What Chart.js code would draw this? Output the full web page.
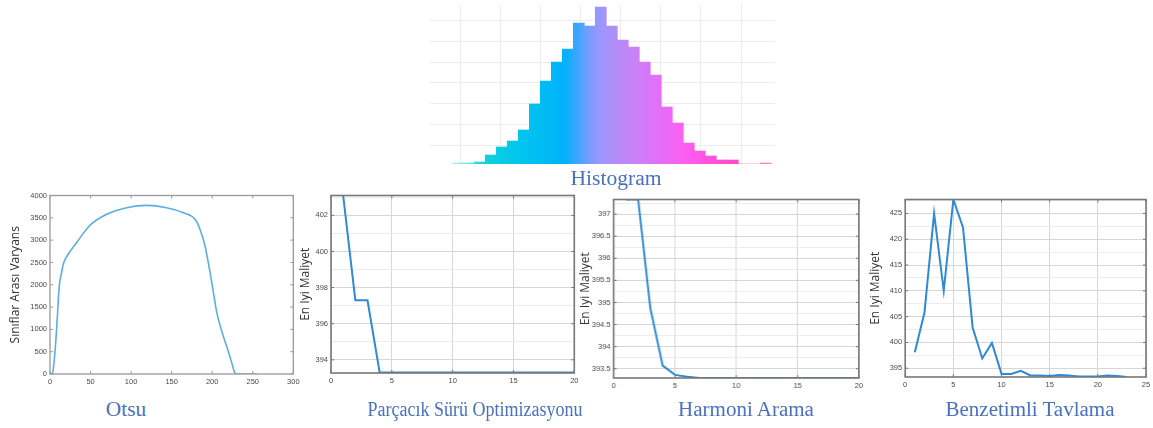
<!DOCTYPE html>
<html>
<head>
<meta charset="utf-8">
<script src="https://cdn.jsdelivr.net/npm/chart.js@4.4.1/dist/chart.umd.min.js"></script>
<style>
  body { margin: 0; background: #fff; width: 1153px; height: 428px; overflow: hidden; position: relative; }
  .box { position: absolute; }
  .cap { position: absolute; width: 300px; text-align: center; white-space: nowrap;
         font-family: "Liberation Serif", "Times New Roman", serif; font-size: 20px; line-height: 20px;
         color: #4a70c0; transform-origin: center; }
</style>
</head>
<body>
<div class="box" id="hBox"><canvas id="hist"></canvas></div>
<div class="box" id="oBox"><canvas id="otsu"></canvas></div>
<div class="box" id="pBox"><canvas id="pso"></canvas></div>
<div class="box" id="aBox"><canvas id="hs"></canvas></div>
<div class="box" id="sBox"><canvas id="sa"></canvas></div>

<div class="cap" style="left:466px;top:168px;transform:scaleX(1.08)">Histogram</div>
<div class="cap" style="left:-24px;top:399px;transform:scaleX(1.07)">Otsu</div>
<div class="cap" style="left:325px;top:399px;transform:scaleX(0.9)">Parçacık Sürü Optimizasyonu</div>
<div class="cap" style="left:596px;top:399px;transform:scaleX(1.05)">Harmoni Arama</div>
<div class="cap" style="left:880px;top:399px;transform:scaleX(1.05)">Benzetimli Tavlama</div>

<script>
// histogram (bin index -> relative count)
const histBins = [0, 1, 2, 3, 4, 5, 6, 7, 8, 9, 10, 11, 12, 13, 14, 15, 16, 17, 18, 19, 20, 21, 22, 23, 24, 25, 26, 27, 28];
const histCounts = [1, 1, 2, 9, 17, 23, 34, 60, 83, 102, 115, 141, 138, 157, 138, 124, 117, 102, 89, 57, 41, 21, 13, 8, 4, 4, 0, 0, 1];

// Otsu between-class variance
const otsuT = [0, 3, 6.2, 8.2, 11.5, 14.4, 16.4, 22.6, 32.9, 49.3, 69.9, 94.5, 119.2, 143.8, 164.4, 178.8, 184.9, 191.1, 197.3, 201.4, 205.5, 209.6, 214.5, 219.9, 224.8, 228.1, 231, 255];
const otsuVar = [0, 20, 504, 1022, 1985, 2281, 2467, 2689, 2948, 3333, 3578, 3726, 3778, 3726, 3615, 3467, 3244, 2874, 2281, 1837, 1393, 1096, 800, 504, 207, 22, 0, 0];

// PSO best cost
const psoIter = [1, 2, 3, 4, 5, 6, 7, 8, 9, 10, 11, 12, 13, 14, 15, 16, 17, 18, 19, 20];
const psoCost = [403.1, 397.3, 397.3, 393.3, 393.3, 393.3, 393.3, 393.3, 393.3, 393.3, 393.3, 393.3, 393.3, 393.3, 393.3, 393.3, 393.3, 393.3, 393.3, 393.3];

// Harmony search best cost
const hsIter = [1, 2, 3, 4, 5, 6, 7, 8, 9, 10, 11, 12, 13, 14, 15, 16, 17, 18, 19, 20];
const hsCost = [397.33, 397.33, 394.86, 393.57, 393.36, 393.32, 393.29, 393.29, 393.29, 393.29, 393.29, 393.29, 393.29, 393.29, 393.29, 393.29, 393.29, 393.29, 393.29, 393.29];

// simulated annealing best cost
const saIter = [1, 2, 3, 4, 5, 6, 7, 8, 9, 10, 11, 12, 13, 14, 15, 16, 17, 18, 19, 20, 21, 22, 23];
const saCost = [398.1, 405.8, 425, 410, 427.7, 422.3, 402.9, 396.9, 399.9, 393.9, 393.9, 394.5, 393.6, 393.6, 393.5, 393.7, 393.6, 393.4, 393.4, 393.4, 393.6, 393.5, 393.3];

const yTitle = 'En İyi Maliyet';
const otsuTitle = 'Sınıflar Arası Varyans';

const tickFont = { family: 'Liberation Sans', size: 7.5 };
const tickColor = '#4a4a4a';

function placeBox(id, r, axisW, axisH, padT, padR) {
  const el = document.getElementById(id);
  el.style.left = (r.l - axisW) + 'px';
  el.style.top = (r.t - padT) + 'px';
  el.style.width = (axisW + r.r - r.l + padR) + 'px';
  el.style.height = (padT + r.b - r.t + axisH) + 'px';
}

// box round the plot + small inner tick marks (matlab look)
const framePlugin = {
  id: 'frame',
  afterDatasetsDraw(chart, args, opts) {
    const { ctx, chartArea: a, scales } = chart;
    ctx.save();
    ctx.strokeStyle = opts.color;
    ctx.lineWidth = 1;
    ctx.beginPath();
    scales.x.ticks.forEach(t => {
      if (t.label === '') return;
      const p = scales.x.getPixelForValue(t.value);
      ctx.moveTo(p, a.bottom); ctx.lineTo(p, a.bottom - 3);
      ctx.moveTo(p, a.top); ctx.lineTo(p, a.top + 3);
    });
    scales.y.ticks.forEach(t => {
      if (t.label === '') return;
      const p = scales.y.getPixelForValue(t.value);
      ctx.moveTo(a.left, p); ctx.lineTo(a.left + 3, p);
      ctx.moveTo(a.right, p); ctx.lineTo(a.right - 3, p);
    });
    ctx.stroke();
    ctx.lineWidth = opts.width;
    ctx.strokeRect(a.left, a.top, a.right - a.left, a.bottom - a.top);
    ctx.restore();
  }
};

function lineChart(id, xs, ys, o) {
  const pts = xs.map((x, i) => ({ x: x, y: ys[i] }));
  const isMajor = v => Math.abs(v / o.yMajor - Math.round(v / o.yMajor)) < 1e-6;
  return new Chart(document.getElementById(id), {
    type: 'line',
    data: {
      datasets: [{
        data: pts,
        borderColor: o.color,
        borderWidth: o.lw,
        pointRadius: 0,
        fill: false,
        tension: o.smooth ? 0.4 : 0,
        cubicInterpolationMode: o.smooth ? 'monotone' : 'default'
      }]
    },
    options: {
      responsive: true,
      maintainAspectRatio: false,
      animation: false,
      events: [],
      layout: { padding: { top: o.padT, right: o.padR, left: 0, bottom: 0 } },
      plugins: {
        legend: { display: false },
        tooltip: { enabled: false },
        frame: { color: o.frame, width: o.frameW }
      },
      scales: {
        x: {
          type: 'linear', min: o.xMin, max: o.xMax,
          afterFit: s => { s.height = o.axisH; },
          ticks: { stepSize: o.xStep, autoSkip: false, maxRotation: 0, padding: 3, font: tickFont, color: tickColor },
          grid: { display: o.grid, drawTicks: false, color: '#d6d6d6' },
          border: { display: false }
        },
        y: {
          type: 'linear', min: o.yMin, max: o.yMax,
          afterFit: s => { s.width = o.axisW; },
          ticks: {
            stepSize: o.yStep, autoSkip: false, includeBounds: false, padding: 3,
            font: tickFont, color: tickColor,
            callback: v => isMajor(v) ? v : ''
          },
          grid: {
            display: o.grid, drawTicks: false,
            color: c => isMajor(c.tick.value) ? '#d6d6d6' : '#ececec'
          },
          border: { display: false },
          title: {
            display: true, text: o.title, color: '#333',
            font: { family: 'Open Sans', size: 12 },
            padding: { top: 0, bottom: 0 }
          }
        }
      }
    },
    plugins: [framePlugin]
  });
}

// ---- histogram ----
const hRect = { l: 430, t: 5, r: 775, b: 164 };
placeBox('hBox', hRect, 0, 0, 5, 0);

const histStops = [
  [0, '#bdf0f0'], [0.10, '#12d0da'], [0.21, '#00c6ee'], [0.35, '#00b2fa'],
  [0.39, '#3aa6ff'], [0.43, '#789cff'], [0.46, '#9898ff'], [0.50, '#ae8ff8'],
  [0.57, '#c882f8'], [0.65, '#e46ef8'], [0.73, '#fc5ef2'], [0.81, '#ff52dc'],
  [0.89, '#ff4cc4'], [1, '#ff8cc0']
];
function histFill(c) {
  const chart = c.chart;
  if (!chart.chartArea) return '#00b2fa';
  const xs = chart.scales.x;
  const g = chart.ctx.createLinearGradient(xs.getPixelForValue(-0.5), 0, xs.getPixelForValue(28.5), 0);
  histStops.forEach(s => g.addColorStop(s[0], s[1]));
  return g;
}

new Chart(document.getElementById('hist'), {
  type: 'bar',
  data: {
    datasets: [{
      data: histBins.map((b, i) => ({ x: b, y: histCounts[i] })),
      backgroundColor: histFill,
      borderWidth: 0,
      barPercentage: 1,
      categoryPercentage: 1
    }]
  },
  options: {
    responsive: true, maintainAspectRatio: false, animation: false, events: [],
    layout: { padding: { top: 5 } },
    plugins: { legend: { display: false }, tooltip: { enabled: false } },
    scales: {
      x: { type: 'linear', display: false, min: -2.527, max: 28.836, offset: false, grid: { offset: false } },
      y: { display: false, min: 0, max: 159 },
      xg: {
        type: 'linear', axis: 'x', position: 'bottom', min: -0.641, max: 6.731,
        ticks: { display: false, stepSize: 1, includeBounds: false },
        grid: { color: '#ececec', drawTicks: false }, border: { display: false },
        afterFit: s => { s.height = 0; }
      },
      yg: {
        type: 'linear', axis: 'y', position: 'left', min: 0.124, max: 7.732,
        ticks: { display: false, stepSize: 1, includeBounds: false },
        grid: { color: '#ececec', drawTicks: false }, border: { display: false },
        afterFit: s => { s.width = 0; }
      }
    }
  }
});

// ---- Otsu ----
const oRect = { l: 50, t: 194.3, r: 293.3, b: 374.3 };
placeBox('oBox', oRect, 42, 14, 6, 10);
lineChart('otsu', otsuT, otsuVar, {
  xMin: 0, xMax: 300, xStep: 50, yMin: 0, yMax: 4000, yStep: 500, yMajor: 500,
  color: '#5aaee4', lw: 1.6, smooth: true, grid: false, frame: '#999', frameW: 1.3,
  axisW: 42, axisH: 14, padT: 6, padR: 10, title: otsuTitle
});

// ---- PSO ----
const pRect = { l: 330.7, t: 194.3, r: 574, b: 373.3 };
placeBox('pBox', pRect, 33, 14, 6, 10);
lineChart('pso', psoIter, psoCost, {
  xMin: 0, xMax: 20, xStep: 5, yMin: 393.27, yMax: 403.1, yStep: 1, yMajor: 2,
  color: '#2e8ad6', lw: 2, smooth: false, grid: true, frame: '#777', frameW: 1.6,
  axisW: 33, axisH: 14, padT: 6, padR: 10, title: yTitle
});

// ---- Harmony search ----
const aRect = { l: 613.3, t: 197.7, r: 857.7, b: 377.7 };
placeBox('aBox', aRect, 35.5, 14, 6, 10);
lineChart('hs', hsIter, hsCost, {
  xMin: 0, xMax: 20, xStep: 5, yMin: 393.29, yMax: 397.33, yStep: 0.25, yMajor: 0.5,
  color: '#2e8ad6', lw: 2, smooth: false, grid: true, frame: '#777', frameW: 1.6,
  axisW: 35.5, axisH: 14, padT: 6, padR: 10, title: yTitle
});

// ---- Simulated annealing ----
const sRect = { l: 905, t: 197.7, r: 1147.3, b: 376.7 };
placeBox('sBox', sRect, 37.2, 14, 6, 5.7);
lineChart('sa', saIter, saCost, {
  xMin: 0, xMax: 25, xStep: 5, yMin: 393.3, yMax: 427.7, yStep: 2.5, yMajor: 5,
  color: '#2e8ad6', lw: 2, smooth: false, grid: true, frame: '#777', frameW: 1.6,
  axisW: 37.2, axisH: 14, padT: 6, padR: 5.7, title: yTitle
});
</script>
</body>
</html>
